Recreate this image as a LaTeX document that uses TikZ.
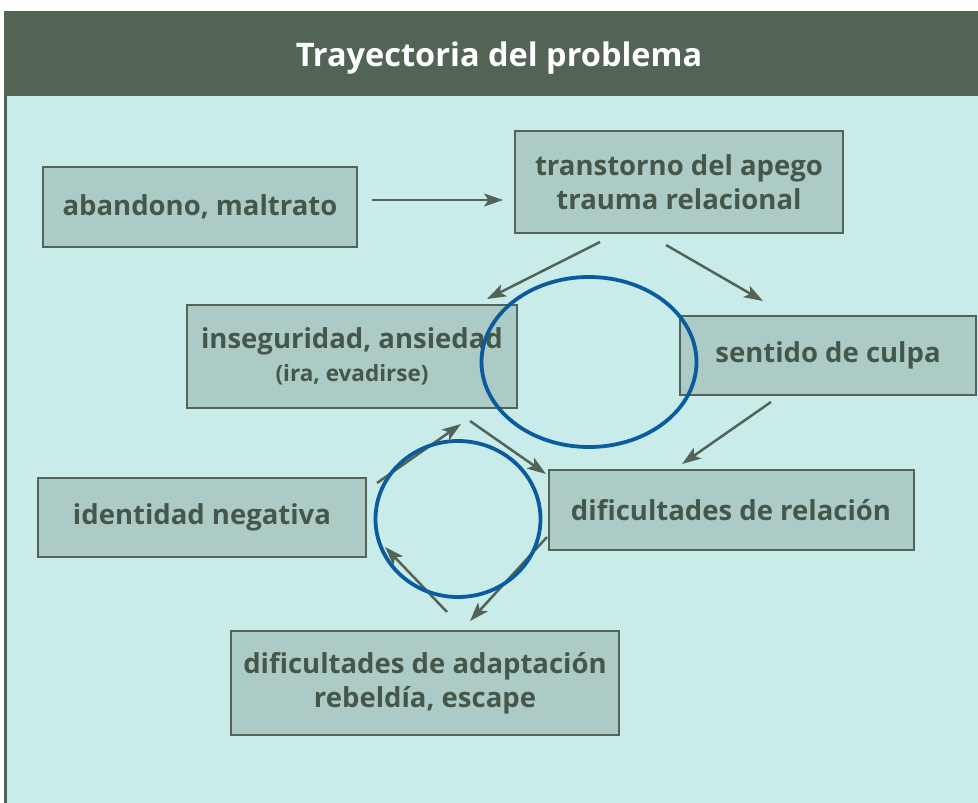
\documentclass[tikz,border=0pt]{standalone}
\usepackage{fontspec}
\setmainfont{Open Sans}
\usetikzlibrary{arrows.meta,shapes.geometric}
\definecolor{hdr}{HTML}{536455}
\definecolor{bodybg}{HTML}{C9ECEA}
\definecolor{boxfill}{HTML}{ADCBC6}
\definecolor{boxline}{HTML}{536356}
\definecolor{txt}{HTML}{44574A}
\definecolor{ring}{HTML}{0A5C9E}
\tikzset{
  stepbox/.style={draw=boxline, line width=2pt, fill=boxfill, text=txt,
    font=\fontsize{27.5}{34}\selectfont\bfseries, align=center, inner sep=0pt},
  arr/.style={draw=boxline, line width=2.5pt,
    -{Stealth[length=19pt,width=13pt,inset=4.5pt]}},
  loopring/.style={draw=ring, line width=3.8pt}
}
\begin{document}
\begin{tikzpicture}[x=1pt,y=-1pt]
\useasboundingbox (0,0) rectangle (978,803);
\fill[white] (0,0) rectangle (978,803);
\fill[bodybg] (5,96) rectangle (978,803);
\fill[hdr] (5,11) rectangle (978,96);
\fill[hdr] (4,11) rectangle (7,803);
\node[text=white, font=\fontsize{32.5}{38}\selectfont\bfseries] (title) at (499,58) {Trayectoria del problema};

\node[stepbox, minimum width=314pt, minimum height=80pt] (ab) at (200,207) {abandono, maltrato};
\node[stepbox, minimum width=328pt, minimum height=102pt] (tr) at (679,182) {transtorno del apego\\trauma relacional};
\node[stepbox, minimum width=330pt, minimum height=103pt] (in) at (352,356) {inseguridad, ansiedad\\[-1pt]{\fontsize{22.5}{27}\selectfont (ira, evadirse)}};
\node[stepbox, minimum width=296pt, minimum height=79pt] (sc) at (828,355) {sentido de culpa};
\node[stepbox, minimum width=328pt, minimum height=79pt] (id) at (202,517) {identidad negativa};
\node[stepbox, minimum width=365pt, minimum height=80pt] (dr) at (731,510) {dificultades de relación};
\node[stepbox, minimum width=388pt, minimum height=104pt] (da) at (425,683) {dificultades de adaptación\\rebeldía, escape};

\coordinate (a1s) at (372,200); \coordinate (a1e) at (503,200);
\coordinate (a2s) at (600,242); \coordinate (a2e) at (487,299);
\coordinate (a3s) at (666,245); \coordinate (a3e) at (763,301);
\coordinate (a4s) at (771,402); \coordinate (a4e) at (682,464);
\coordinate (a5s) at (470,421); \coordinate (a5e) at (546,474);
\coordinate (a6s) at (547,537); \coordinate (a6e) at (470,621);
\coordinate (a7s) at (447,612); \coordinate (a7e) at (385,547);
\coordinate (a8s) at (377,483); \coordinate (a8e) at (461,424);
\foreach \i in {1,...,8} {\draw[arr] (a\i s) -- (a\i e);}

\node[loopring, ellipse, minimum width=215pt, minimum height=170pt, inner sep=0pt] (r1) at (589,362) {};
\node[loopring, ellipse, minimum width=165pt, minimum height=156pt, inner sep=0pt] (r2) at (458,519) {};
\end{tikzpicture}
\end{document}
